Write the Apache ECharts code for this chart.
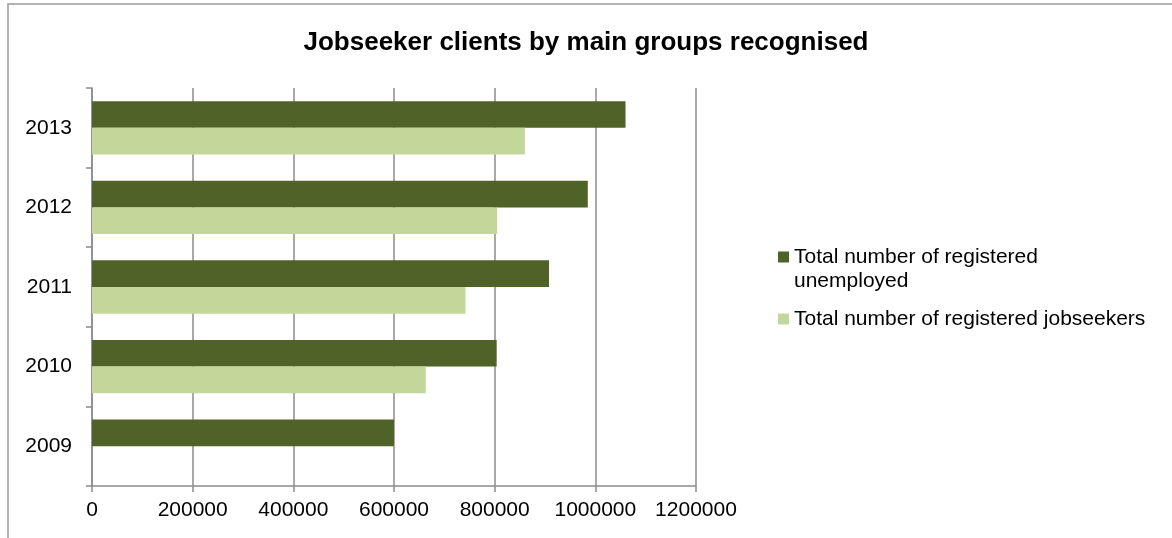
<!DOCTYPE html>
<html>
<head>
<meta charset="utf-8">
<script src="https://cdn.jsdelivr.net/npm/echarts@6/dist/echarts.min.js"></script>
<style>
html,body{margin:0;padding:0;background:#fff;}
#chart{width:1172px;height:538px;}
</style>
</head>
<body>
<div id="chart"></div>
<script>
const years = ['2009', '2010', '2011', '2012', '2013'];
const unemployed = [600000, 804000, 908000, 985000, 1060000];
const jobseekers = [null, 663000, 742000, 805000, 860000];
const xTicks = [0, 200000, 400000, 600000, 800000, 1000000, 1200000];
const seriesNames = ['Total number of registered unemployed', 'Total number of registered jobseekers'];

const chart = echarts.init(document.getElementById('chart'), null, {renderer: 'canvas'});
const axisGray = '#8c8c8c';
const font = 'Liberation Sans';
chart.setOption({
  backgroundColor: '#ffffff',
  animation: false,
  title: {
    text: 'Jobseeker clients by main groups recognised',
    left: 'center',
    top: 30,
    padding: 0,
    textStyle: {fontFamily: font, fontWeight: 'bold', fontSize: 26, color: '#000'}
  },
  graphic: [{
    type: 'rect',
    shape: {x: 8, y: 4, width: 1300, height: 700},
    style: {fill: 'none', stroke: '#9a9a9a', lineWidth: 1.5},
    silent: true
  }],
  legend: {
    orient: 'vertical',
    left: 778,
    top: 221,
    padding: 0,
    itemWidth: 11,
    itemHeight: 11,
    itemGap: 14,
    icon: 'rect',
    data: seriesNames,
    formatter: function (name) {
      // leading blank line keeps the marker level with the first text line
      return name === seriesNames[0] ? '\nTotal number of registered\nunemployed' : name;
    },
    textStyle: {fontFamily: font, fontSize: 21, color: '#000', lineHeight: 24}
  },
  grid: {left: 92, right: 476, top: 88, bottom: 52, containLabel: false},
  xAxis: {
    type: 'value',
    min: xTicks[0],
    max: xTicks[xTicks.length - 1],
    interval: xTicks[1] - xTicks[0],
    axisLine: {show: true, lineStyle: {color: axisGray, width: 1.5}},
    axisTick: {show: true, length: 6, lineStyle: {color: axisGray, width: 1.5}},
    splitLine: {show: true, lineStyle: {color: axisGray, width: 1.5}},
    axisLabel: {fontFamily: font, fontSize: 21, color: '#000', margin: 14,
      formatter: function (v) { return String(v); }}
  },
  yAxis: {
    type: 'category',
    data: years,
    axisLine: {show: true, lineStyle: {color: axisGray, width: 1.5}},
    axisTick: {show: true, length: 6, lineStyle: {color: axisGray, width: 1.5}},
    axisLabel: {fontFamily: font, fontSize: 21, color: '#000', margin: 20}
  },
  series: [
    {
      name: seriesNames[0],
      type: 'bar',
      data: unemployed,
      barGap: '0%',
      barCategoryGap: '33%',
      itemStyle: {color: '#4f6228'}
    },
    {
      name: seriesNames[1],
      type: 'bar',
      data: jobseekers,
      barGap: '0%',
      barCategoryGap: '33%',
      itemStyle: {color: '#c4d79b'}
    }
  ]
});
</script>
</body>
</html>
